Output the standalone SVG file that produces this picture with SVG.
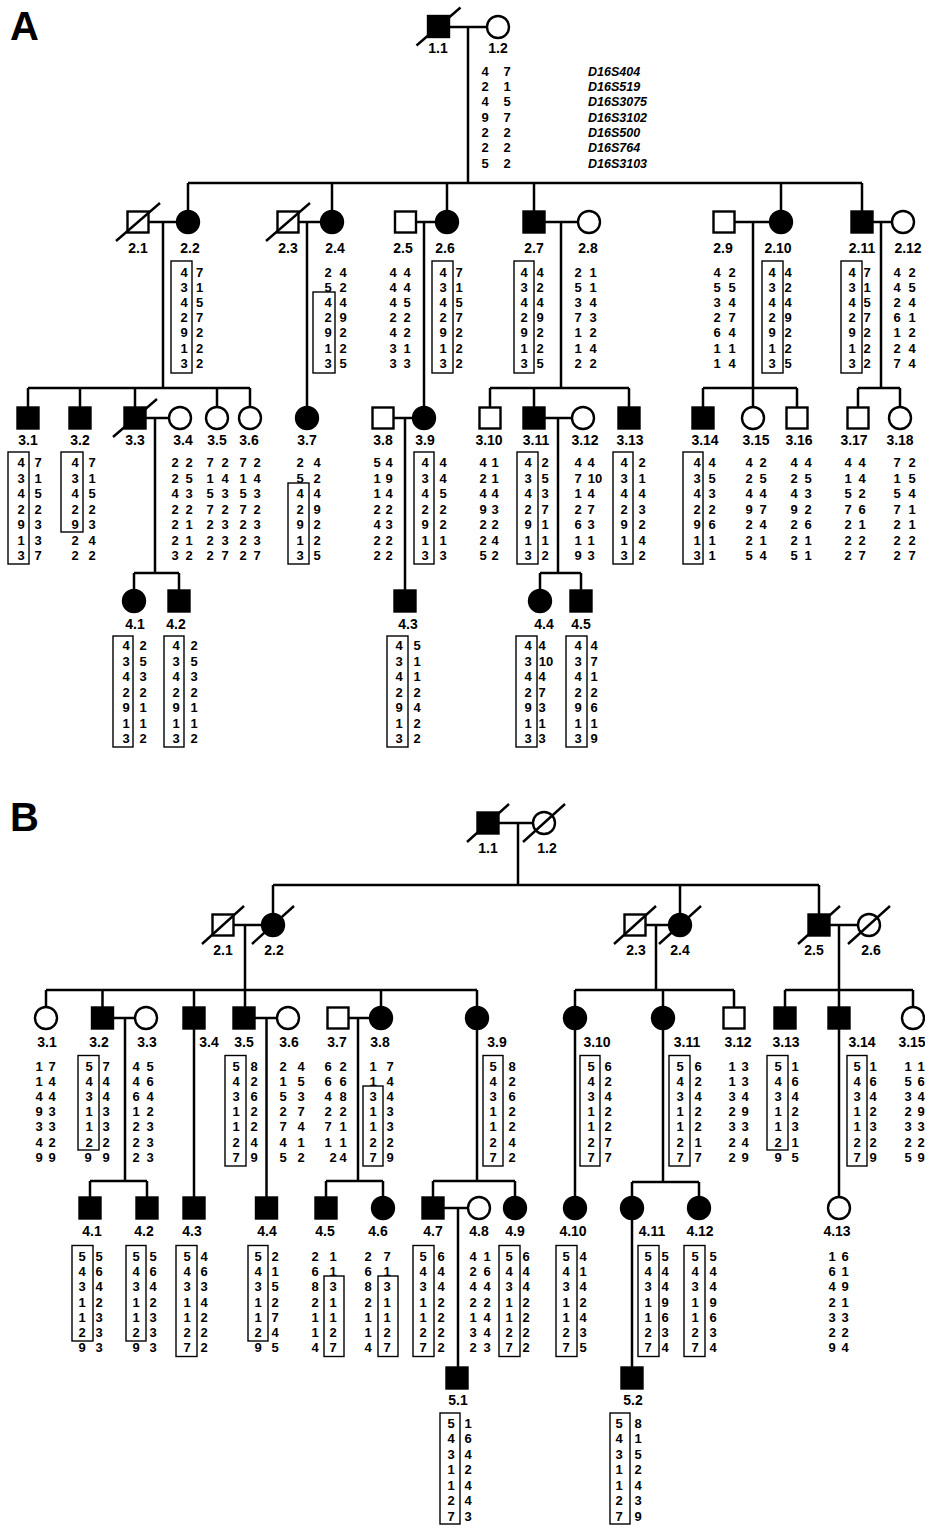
<svg xmlns="http://www.w3.org/2000/svg" width="925" height="1527" viewBox="0 0 925 1527">
<style>
.a{font:700 13px "Liberation Sans",Arial,sans-serif;text-anchor:middle;fill:#000}
.l{font:700 14px "Liberation Sans",Arial,sans-serif;text-anchor:middle;fill:#000}
.m{font:italic 700 12.5px "Liberation Sans",Arial,sans-serif;fill:#000}
.big{font:700 40px "Liberation Sans",Arial,sans-serif;fill:#000}
.ln{stroke:#000;stroke-width:2.5;fill:none}
.s{stroke:#000;stroke-width:2.4}
.f{fill:#000}
.o{fill:#fff}
.bx{fill:none;stroke:#000;stroke-width:1.4}
.sl{stroke:#000;stroke-width:2.4}
</style>
<rect width="925" height="1527" fill="#fff"/>
<text class="big" x="10" y="40">A</text>
<text class="big" x="10" y="831">B</text>

<g id="connectors">
<!-- Panel A -->
<line class="ln" x1="449" y1="27" x2="487" y2="27"/>
<line class="ln" x1="468" y1="27" x2="468" y2="183"/>
<line class="ln" x1="188" y1="183" x2="862" y2="183"/>
<line class="ln" x1="188" y1="183" x2="188" y2="211"/>
<line class="ln" x1="332" y1="183" x2="332" y2="211"/>
<line class="ln" x1="447" y1="183" x2="447" y2="211"/>
<line class="ln" x1="534" y1="183" x2="534" y2="211.5"/>
<line class="ln" x1="781" y1="183" x2="781" y2="211"/>
<line class="ln" x1="862" y1="183" x2="862" y2="211.5"/>
<line class="ln" x1="148.5" y1="222" x2="177" y2="222"/>
<line class="ln" x1="163" y1="222" x2="163" y2="388"/>
<line class="ln" x1="298.5" y1="222" x2="321" y2="222"/>
<line class="ln" x1="307" y1="222" x2="307" y2="407"/>
<line class="ln" x1="416" y1="222" x2="436" y2="222"/>
<line class="ln" x1="424" y1="222" x2="424" y2="407"/>
<line class="ln" x1="544.5" y1="222" x2="578" y2="222"/>
<line class="ln" x1="561" y1="222" x2="561" y2="388"/>
<line class="ln" x1="734.5" y1="222" x2="770" y2="222"/>
<line class="ln" x1="753" y1="222" x2="753" y2="388"/>
<line class="ln" x1="872.5" y1="222" x2="892" y2="222"/>
<line class="ln" x1="881" y1="222" x2="881" y2="388"/>
<line class="ln" x1="28" y1="388" x2="250" y2="388"/>
<line class="ln" x1="28" y1="388" x2="28" y2="407.5"/>
<line class="ln" x1="80" y1="388" x2="80" y2="407.5"/>
<line class="ln" x1="135" y1="388" x2="135" y2="407.5"/>
<line class="ln" x1="217" y1="388" x2="217" y2="407"/>
<line class="ln" x1="250" y1="388" x2="250" y2="407"/>
<line class="ln" x1="490" y1="388" x2="629" y2="388"/>
<line class="ln" x1="490" y1="388" x2="490" y2="407.5"/>
<line class="ln" x1="534" y1="388" x2="534" y2="407.5"/>
<line class="ln" x1="629" y1="388" x2="629" y2="407.5"/>
<line class="ln" x1="703" y1="388" x2="797" y2="388"/>
<line class="ln" x1="703" y1="388" x2="703" y2="407.5"/>
<line class="ln" x1="753" y1="388" x2="753" y2="407"/>
<line class="ln" x1="797" y1="388" x2="797" y2="407.5"/>
<line class="ln" x1="858" y1="388" x2="900" y2="388"/>
<line class="ln" x1="858" y1="388" x2="858" y2="407.5"/>
<line class="ln" x1="900" y1="388" x2="900" y2="407"/>
<line class="ln" x1="145.5" y1="418" x2="169" y2="418"/>
<line class="ln" x1="155" y1="418" x2="155" y2="573"/>
<line class="ln" x1="393.5" y1="418" x2="413" y2="418"/>
<line class="ln" x1="405" y1="418" x2="405" y2="590.5"/>
<line class="ln" x1="544.5" y1="418" x2="572" y2="418"/>
<line class="ln" x1="558" y1="418" x2="558" y2="573"/>
<line class="ln" x1="134" y1="573" x2="179" y2="573"/>
<line class="ln" x1="134" y1="573" x2="134" y2="590"/>
<line class="ln" x1="179" y1="573" x2="179" y2="590.5"/>
<line class="ln" x1="540" y1="573" x2="581" y2="573"/>
<line class="ln" x1="540" y1="573" x2="540" y2="590"/>
<line class="ln" x1="581" y1="573" x2="581" y2="590.5"/>
<!-- Panel B -->
<line class="ln" x1="498.5" y1="823" x2="533" y2="823"/>
<line class="ln" x1="518" y1="823" x2="518" y2="885"/>
<line class="ln" x1="273" y1="885" x2="819" y2="885"/>
<line class="ln" x1="273" y1="885" x2="273" y2="914"/>
<line class="ln" x1="680" y1="885" x2="680" y2="914"/>
<line class="ln" x1="819" y1="885" x2="819" y2="914.5"/>
<line class="ln" x1="233.5" y1="925" x2="262" y2="925"/>
<line class="ln" x1="245" y1="925" x2="245" y2="1007.5"/>
<line class="ln" x1="645.5" y1="925" x2="669" y2="925"/>
<line class="ln" x1="656" y1="925" x2="656" y2="990"/>
<line class="ln" x1="829.5" y1="925" x2="858" y2="925"/>
<line class="ln" x1="839" y1="925" x2="839" y2="1007.5"/>
<line class="ln" x1="46" y1="990" x2="477" y2="990"/>
<line class="ln" x1="46" y1="990" x2="46" y2="1007"/>
<line class="ln" x1="102.5" y1="990" x2="102.5" y2="1007.5"/>
<line class="ln" x1="194" y1="990" x2="194" y2="1007.5"/>
<line class="ln" x1="381" y1="990" x2="381" y2="1007"/>
<line class="ln" x1="477" y1="990" x2="477" y2="1007"/>
<line class="ln" x1="575" y1="990" x2="734" y2="990"/>
<line class="ln" x1="575" y1="990" x2="575" y2="1007"/>
<line class="ln" x1="663" y1="990" x2="663" y2="1007"/>
<line class="ln" x1="734" y1="990" x2="734" y2="1007.5"/>
<line class="ln" x1="785" y1="990" x2="913" y2="990"/>
<line class="ln" x1="785" y1="990" x2="785" y2="1007.5"/>
<line class="ln" x1="913" y1="990" x2="913" y2="1007"/>
<line class="ln" x1="113" y1="1018" x2="135" y2="1018"/>
<line class="ln" x1="125" y1="1018" x2="125" y2="1181"/>
<line class="ln" x1="90" y1="1181" x2="147" y2="1181"/>
<line class="ln" x1="90" y1="1181" x2="90" y2="1197.5"/>
<line class="ln" x1="147" y1="1181" x2="147" y2="1197.5"/>
<line class="ln" x1="194" y1="1028.5" x2="194" y2="1197.5"/>
<line class="ln" x1="254.5" y1="1018" x2="277" y2="1018"/>
<line class="ln" x1="266.5" y1="1018" x2="266.5" y2="1197.5"/>
<line class="ln" x1="348.5" y1="1018" x2="370" y2="1018"/>
<line class="ln" x1="358" y1="1018" x2="358" y2="1181"/>
<line class="ln" x1="326" y1="1181" x2="383" y2="1181"/>
<line class="ln" x1="326" y1="1181" x2="326" y2="1197.5"/>
<line class="ln" x1="383" y1="1181" x2="383" y2="1197"/>
<line class="ln" x1="477" y1="1029" x2="477" y2="1181"/>
<line class="ln" x1="433" y1="1181" x2="515" y2="1181"/>
<line class="ln" x1="433" y1="1181" x2="433" y2="1197.5"/>
<line class="ln" x1="515" y1="1181" x2="515" y2="1197"/>
<line class="ln" x1="443.5" y1="1208" x2="468" y2="1208"/>
<line class="ln" x1="458" y1="1208" x2="458" y2="1367.5"/>
<line class="ln" x1="575" y1="1029" x2="575" y2="1197"/>
<line class="ln" x1="663" y1="1029" x2="663" y2="1182"/>
<line class="ln" x1="632" y1="1182" x2="699" y2="1182"/>
<line class="ln" x1="632" y1="1182" x2="632" y2="1197"/>
<line class="ln" x1="699" y1="1182" x2="699" y2="1197"/>
<line class="ln" x1="632" y1="1219" x2="632" y2="1367.5"/>
<line class="ln" x1="839" y1="1028.5" x2="839" y2="1197"/>
</g>

<!-- ================= PANEL A ================= -->
<g id="A-1.1"><rect class="s f" x="428" y="16" width="21" height="21"/><line class="sl" x1="416.5" y1="45.5" x2="460.5" y2="7.5"/><text class="l" x="438" y="53">1.1</text></g>
<g id="A-1.2"><circle class="s o" cx="498" cy="27" r="11"/><text class="l" x="498" y="53">1.2</text>
<text class="a" x="485 485 485 485 485 485 485" y="75.6 91 106.3 121.7 137 152.4 167.7">4249225</text>
<text class="a" x="507 507 507 507 507 507 507" y="75.6 91 106.3 121.7 137 152.4 167.7">7157222</text></g>
<g id="A-markers">
<text class="m" x="588" y="75.6">D16S404</text>
<text class="m" x="588" y="91">D16S519</text>
<text class="m" x="588" y="106.3">D16S3075</text>
<text class="m" x="588" y="121.7">D16S3102</text>
<text class="m" x="588" y="137">D16S500</text>
<text class="m" x="588" y="152.4">D16S764</text>
<text class="m" x="588" y="167.7">D16S3103</text>
</g>

<g id="A-2.1"><rect class="s o" x="127.5" y="211.5" width="21" height="21"/><line class="sl" x1="116" y1="241" x2="160" y2="203"/><text class="l" x="138" y="253">2.1</text></g>
<g id="A-2.2"><circle class="s f" cx="188" cy="222" r="11"/><text class="l" x="190" y="253">2.2</text>
<rect class="bx" x="171" y="261" width="21" height="112"/>
<text class="a" x="184 184 184 184 184 184 184" y="276.6 291.8 307 322.2 337.4 352.6 367.8">4342913</text>
<text class="a" x="199.5 199.5 199.5 199.5 199.5 199.5 199.5" y="276.6 291.8 307 322.2 337.4 352.6 367.8">7157222</text></g>
<g id="A-2.3"><rect class="s o" x="277.5" y="211.5" width="21" height="21"/><line class="sl" x1="266" y1="241" x2="310" y2="203"/><text class="l" x="288" y="253">2.3</text></g>
<g id="A-2.4"><circle class="s f" cx="332" cy="222" r="11"/><text class="l" x="335" y="253">2.4</text>
<rect class="bx" x="313" y="292" width="22" height="81"/>
<text class="a" x="328 328 328 328 328 328 328" y="276.6 291.8 307 322.2 337.4 352.6 367.8">2542913</text>
<text class="a" x="343 343 343 343 343 343 343" y="276.6 291.8 307 322.2 337.4 352.6 367.8">4249225</text></g>
<g id="A-2.5"><rect class="s o" x="395" y="211.5" width="21" height="21"/><text class="l" x="403" y="253">2.5</text>
<text class="a" x="393 393 393 393 393 393 393" y="276.6 291.8 307 322.2 337.4 352.6 367.8">4442433</text>
<text class="a" x="407 407 407 407 407 407 407" y="276.6 291.8 307 322.2 337.4 352.6 367.8">4452213</text></g>
<g id="A-2.6"><circle class="s f" cx="447" cy="222" r="11"/><text class="l" x="445" y="253">2.6</text>
<rect class="bx" x="432" y="261" width="21" height="112"/>
<text class="a" x="443 443 443 443 443 443 443" y="276.6 291.8 307 322.2 337.4 352.6 367.8">4342913</text>
<text class="a" x="459 459 459 459 459 459 459" y="276.6 291.8 307 322.2 337.4 352.6 367.8">7157222</text></g>
<g id="A-2.7"><rect class="s f" x="523.5" y="211.5" width="21" height="21"/><text class="l" x="534" y="253">2.7</text>
<rect class="bx" x="514" y="261" width="20" height="112"/>
<text class="a" x="524 524 524 524 524 524 524" y="276.6 291.8 307 322.2 337.4 352.6 367.8">4342913</text>
<text class="a" x="540 540 540 540 540 540 540" y="276.6 291.8 307 322.2 337.4 352.6 367.8">4249225</text></g>
<g id="A-2.8"><circle class="s o" cx="589" cy="222" r="11"/><text class="l" x="588" y="253">2.8</text>
<text class="a" x="578 578 578 578 578 578 578" y="276.6 291.8 307 322.2 337.4 352.6 367.8">2537112</text>
<text class="a" x="593 593 593 593 593 593 593" y="276.6 291.8 307 322.2 337.4 352.6 367.8">1143242</text></g>
<g id="A-2.9"><rect class="s o" x="713.5" y="211.5" width="21" height="21"/><text class="l" x="723" y="253">2.9</text>
<text class="a" x="717 717 717 717 717 717 717" y="276.6 291.8 307 322.2 337.4 352.6 367.8">4532611</text>
<text class="a" x="732 732 732 732 732 732 732" y="276.6 291.8 307 322.2 337.4 352.6 367.8">2547414</text></g>
<g id="A-2.10"><circle class="s f" cx="781" cy="222" r="11"/><text class="l" x="778" y="253">2.10</text>
<rect class="bx" x="762" y="261" width="21" height="112"/>
<text class="a" x="772 772 772 772 772 772 772" y="276.6 291.8 307 322.2 337.4 352.6 367.8">4342913</text>
<text class="a" x="788 788 788 788 788 788 788" y="276.6 291.8 307 322.2 337.4 352.6 367.8">4249225</text></g>
<g id="A-2.11"><rect class="s f" x="851.5" y="211.5" width="21" height="21"/><text class="l" x="862" y="253">2.11</text>
<rect class="bx" x="841" y="261" width="21" height="112"/>
<text class="a" x="852 852 852 852 852 852 852" y="276.6 291.8 307 322.2 337.4 352.6 367.8">4342913</text>
<text class="a" x="867 867 867 867 867 867 867" y="276.6 291.8 307 322.2 337.4 352.6 367.8">7157222</text></g>
<g id="A-2.12"><circle class="s o" cx="903" cy="222" r="11"/><text class="l" x="908" y="253">2.12</text>
<text class="a" x="897 897 897 897 897 897 897" y="276.6 291.8 307 322.2 337.4 352.6 367.8">4426127</text>
<text class="a" x="912 912 912 912 912 912 912" y="276.6 291.8 307 322.2 337.4 352.6 367.8">2541244</text></g>

<g id="A-3.1"><rect class="s f" x="17.5" y="407.5" width="21" height="21"/><text class="l" x="28" y="445">3.1</text>
<rect class="bx" x="8" y="452" width="21" height="112"/>
<text class="a" x="21 21 21 21 21 21 21" y="467 482.5 498 513.5 529 544.5 560">4342913</text>
<text class="a" x="38 38 38 38 38 38 38" y="467 482.5 498 513.5 529 544.5 560">7152337</text></g>
<g id="A-3.2"><rect class="s f" x="69.5" y="407.5" width="21" height="21"/><text class="l" x="80" y="445">3.2</text>
<rect class="bx" x="61" y="452" width="22" height="80"/>
<text class="a" x="75 75 75 75 75 75 75" y="467 482.5 498 513.5 529 544.5 560">4342922</text>
<text class="a" x="92 92 92 92 92 92 92" y="467 482.5 498 513.5 529 544.5 560">7152342</text></g>
<g id="A-3.3"><rect class="s f" x="124.5" y="407.5" width="21" height="21"/><line class="sl" x1="113" y1="437" x2="157" y2="399"/><text class="l" x="135" y="445">3.3</text></g>
<g id="A-3.4"><circle class="s o" cx="180" cy="418" r="11"/><text class="l" x="183" y="445">3.4</text>
<text class="a" x="175 175 175 175 175 175 175" y="467 482.5 498 513.5 529 544.5 560">2242223</text>
<text class="a" x="189 189 189 189 189 189 189" y="467 482.5 498 513.5 529 544.5 560">2532112</text></g>
<g id="A-3.5"><circle class="s o" cx="217" cy="418" r="11"/><text class="l" x="217" y="445">3.5</text>
<text class="a" x="210 210 210 210 210 210 210" y="467 482.5 498 513.5 529 544.5 560">7157222</text>
<text class="a" x="225 225 225 225 225 225 225" y="467 482.5 498 513.5 529 544.5 560">2432337</text></g>
<g id="A-3.6"><circle class="s o" cx="250" cy="418" r="11"/><text class="l" x="249" y="445">3.6</text>
<text class="a" x="243 243 243 243 243 243 243" y="467 482.5 498 513.5 529 544.5 560">7157222</text>
<text class="a" x="257 257 257 257 257 257 257" y="467 482.5 498 513.5 529 544.5 560">2432337</text></g>
<g id="A-3.7"><circle class="s f" cx="307" cy="418" r="11"/><text class="l" x="307" y="445">3.7</text>
<rect class="bx" x="288" y="483" width="21" height="81"/>
<text class="a" x="300 300 300 300 300 300 300" y="467 482.5 498 513.5 529 544.5 560">2542913</text>
<text class="a" x="317 317 317 317 317 317 317" y="467 482.5 498 513.5 529 544.5 560">4249225</text></g>
<g id="A-3.8"><rect class="s o" x="372.5" y="407.5" width="21" height="21"/><text class="l" x="383" y="445">3.8</text>
<text class="a" x="377 377 377 377 377 377 377" y="467 482.5 498 513.5 529 544.5 560">5112422</text>
<text class="a" x="389 389 389 389 389 389 389" y="467 482.5 498 513.5 529 544.5 560">4942322</text></g>
<g id="A-3.9"><circle class="s f" cx="424" cy="418" r="11"/><text class="l" x="425" y="445">3.9</text>
<rect class="bx" x="414" y="452" width="20" height="112"/>
<text class="a" x="425 425 425 425 425 425 425" y="467 482.5 498 513.5 529 544.5 560">4342913</text>
<text class="a" x="443 443 443 443 443 443 443" y="467 482.5 498 513.5 529 544.5 560">4452213</text></g>
<g id="A-3.10"><rect class="s o" x="479.5" y="407.5" width="21" height="21"/><text class="l" x="489" y="445">3.10</text>
<text class="a" x="483 483 483 483 483 483 483" y="467 482.5 498 513.5 529 544.5 560">4249225</text>
<text class="a" x="495 495 495 495 495 495 495" y="467 482.5 498 513.5 529 544.5 560">1143242</text></g>
<g id="A-3.11"><rect class="s f" x="523.5" y="407.5" width="21" height="21"/><text class="l" x="536" y="445">3.11</text>
<rect class="bx" x="517" y="452" width="21" height="112"/>
<text class="a" x="528 528 528 528 528 528 528" y="467 482.5 498 513.5 529 544.5 560">4342913</text>
<text class="a" x="545 545 545 545 545 545 545" y="467 482.5 498 513.5 529 544.5 560">2537112</text></g>
<g id="A-3.12"><circle class="s o" cx="583" cy="418" r="11"/><text class="l" x="585" y="445">3.12</text>
<text class="a" x="578 578 578 578 578 578 578" y="467 482.5 498 513.5 529 544.5 560">4712619</text>
<text class="a" x="591" y="467">4</text><text class="a" x="595" y="482.5">10</text>
<text class="a" x="591 591 591 591 591" y="498 513.5 529 544.5 560">47313</text></g>
<g id="A-3.13"><rect class="s f" x="618.5" y="407.5" width="21" height="21"/><text class="l" x="630" y="445">3.13</text>
<rect class="bx" x="613" y="452" width="20" height="112"/>
<text class="a" x="624 624 624 624 624 624 624" y="467 482.5 498 513.5 529 544.5 560">4342913</text>
<text class="a" x="642 642 642 642 642 642 642" y="467 482.5 498 513.5 529 544.5 560">2143242</text></g>
<g id="A-3.14"><rect class="s f" x="692.5" y="407.5" width="21" height="21"/><text class="l" x="705" y="445">3.14</text>
<rect class="bx" x="683" y="452" width="20" height="112"/>
<text class="a" x="697 697 697 697 697 697 697" y="467 482.5 498 513.5 529 544.5 560">4342913</text>
<text class="a" x="712 712 712 712 712 712 712" y="467 482.5 498 513.5 529 544.5 560">4532611</text></g>
<g id="A-3.15"><circle class="s o" cx="753" cy="418" r="11"/><text class="l" x="756" y="445">3.15</text>
<text class="a" x="749 749 749 749 749 749 749" y="467 482.5 498 513.5 529 544.5 560">4249225</text>
<text class="a" x="763 763 763 763 763 763 763" y="467 482.5 498 513.5 529 544.5 560">2547414</text></g>
<g id="A-3.16"><rect class="s o" x="786.5" y="407.5" width="21" height="21"/><text class="l" x="799" y="445">3.16</text>
<text class="a" x="794 794 794 794 794 794 794" y="467 482.5 498 513.5 529 544.5 560">4249225</text>
<text class="a" x="808 808 808 808 808 808 808" y="467 482.5 498 513.5 529 544.5 560">4532611</text></g>
<g id="A-3.17"><rect class="s o" x="847.5" y="407.5" width="21" height="21"/><text class="l" x="854" y="445">3.17</text>
<text class="a" x="848 848 848 848 848 848 848" y="467 482.5 498 513.5 529 544.5 560">4157222</text>
<text class="a" x="862 862 862 862 862 862 862" y="467 482.5 498 513.5 529 544.5 560">4426127</text></g>
<g id="A-3.18"><circle class="s o" cx="900" cy="418" r="11"/><text class="l" x="900" y="445">3.18</text>
<text class="a" x="897 897 897 897 897 897 897" y="467 482.5 498 513.5 529 544.5 560">7157222</text>
<text class="a" x="912 912 912 912 912 912 912" y="467 482.5 498 513.5 529 544.5 560">2541127</text></g>

<g id="A-4.1"><circle class="s f" cx="134" cy="601" r="11"/><text class="l" x="135" y="629">4.1</text>
<rect class="bx" x="113" y="636" width="20" height="111"/>
<text class="a" x="126 126 126 126 126 126 126" y="650 665.5 681 696.5 712 727.5 743">4342913</text>
<text class="a" x="143 143 143 143 143 143 143" y="650 665.5 681 696.5 712 727.5 743">2532112</text></g>
<g id="A-4.2"><rect class="s f" x="168.5" y="590.5" width="21" height="21"/><text class="l" x="176" y="629">4.2</text>
<rect class="bx" x="164" y="636" width="20" height="111"/>
<text class="a" x="176 176 176 176 176 176 176" y="650 665.5 681 696.5 712 727.5 743">4342913</text>
<text class="a" x="194 194 194 194 194 194 194" y="650 665.5 681 696.5 712 727.5 743">2532112</text></g>
<g id="A-4.3"><rect class="s f" x="394.5" y="590.5" width="21" height="21"/><text class="l" x="408" y="629">4.3</text>
<rect class="bx" x="387" y="636" width="21" height="111"/>
<text class="a" x="399 399 399 399 399 399 399" y="650 665.5 681 696.5 712 727.5 743">4342913</text>
<text class="a" x="417 417 417 417 417 417 417" y="650 665.5 681 696.5 712 727.5 743">5112422</text></g>
<g id="A-4.4"><circle class="s f" cx="540" cy="601" r="11"/><text class="l" x="544" y="629">4.4</text>
<rect class="bx" x="516" y="636" width="21" height="111"/>
<text class="a" x="528 528 528 528 528 528 528" y="650 665.5 681 696.5 712 727.5 743">4342913</text>
<text class="a" x="542" y="650">4</text><text class="a" x="546" y="665.5">10</text>
<text class="a" x="542 542 542 542 542" y="681 696.5 712 727.5 743">47313</text></g>
<g id="A-4.5"><rect class="s f" x="570.5" y="590.5" width="21" height="21"/><text class="l" x="581" y="629">4.5</text>
<rect class="bx" x="566" y="636" width="21" height="111"/>
<text class="a" x="578 578 578 578 578 578 578" y="650 665.5 681 696.5 712 727.5 743">4342913</text>
<text class="a" x="594 594 594 594 594 594 594" y="650 665.5 681 696.5 712 727.5 743">4712619</text></g>

<!-- ================= PANEL B ================= -->
<g id="B-1.1"><rect class="s f" x="477.5" y="812.5" width="21" height="21"/><line class="sl" x1="467" y1="842" x2="509" y2="804"/><text class="l" x="488" y="853">1.1</text></g>
<g id="B-1.2"><circle class="s o" cx="544" cy="823" r="11"/><line class="sl" x1="523" y1="842" x2="565" y2="804"/><text class="l" x="547" y="853">1.2</text></g>

<g id="B-2.1"><rect class="s o" x="212.5" y="914.5" width="21" height="21"/><line class="sl" x1="202" y1="944" x2="244" y2="906"/><text class="l" x="223" y="955">2.1</text></g>
<g id="B-2.2"><circle class="s f" cx="273" cy="925" r="11"/><line class="sl" x1="252" y1="944" x2="294" y2="906"/><text class="l" x="274" y="955">2.2</text></g>
<g id="B-2.3"><rect class="s o" x="624.5" y="914.5" width="21" height="21"/><line class="sl" x1="614" y1="944" x2="656" y2="906"/><text class="l" x="636" y="955">2.3</text></g>
<g id="B-2.4"><circle class="s f" cx="680" cy="925" r="11"/><line class="sl" x1="659" y1="944" x2="701" y2="906"/><text class="l" x="680" y="955">2.4</text></g>
<g id="B-2.5"><rect class="s f" x="808.5" y="914.5" width="21" height="21"/><line class="sl" x1="798" y1="944" x2="840" y2="906"/><text class="l" x="814" y="955">2.5</text></g>
<g id="B-2.6"><circle class="s o" cx="869" cy="925" r="11"/><line class="sl" x1="848" y1="944" x2="890" y2="906"/><text class="l" x="871" y="955">2.6</text></g>

<g id="B-3.1"><circle class="s o" cx="46" cy="1018" r="11"/><text class="l" x="47" y="1047">3.1</text>
<text class="a" x="39 39 39 39 39 39 39" y="1070.6 1085.8 1101 1116.2 1131.4 1146.6 1161.8">1149349</text>
<text class="a" x="52 52 52 52 52 52 52" y="1070.6 1085.8 1101 1116.2 1131.4 1146.6 1161.8">7443329</text></g>
<g id="B-3.2"><rect class="s f" x="92" y="1007.5" width="21" height="21"/><text class="l" x="99" y="1047">3.2</text>
<rect class="bx" x="78" y="1055.5" width="21" height="94.5"/>
<text class="a" x="89 89 89 89 89 89 88" y="1070.6 1085.8 1101 1116.2 1131.4 1146.6 1161.8">5431129</text>
<text class="a" x="106 106 106 106 106 106 106" y="1070.6 1085.8 1101 1116.2 1131.4 1146.6 1161.8">7443329</text></g>
<g id="B-3.3"><circle class="s o" cx="146" cy="1018" r="11"/><text class="l" x="147" y="1047">3.3</text>
<text class="a" x="136 136 136 136 136 136 136" y="1070.6 1085.8 1101 1116.2 1131.4 1146.6 1161.8">4461222</text>
<text class="a" x="150 150 150 150 150 150 150" y="1070.6 1085.8 1101 1116.2 1131.4 1146.6 1161.8">5642333</text></g>
<g id="B-3.4"><rect class="s f" x="183.5" y="1007.5" width="21" height="21"/><text class="l" x="209" y="1047">3.4</text></g>
<g id="B-3.5"><rect class="s f" x="233.5" y="1007.5" width="21" height="21"/><text class="l" x="244" y="1047">3.5</text>
<rect class="bx" x="225" y="1055.5" width="21" height="110.5"/>
<text class="a" x="236 236 236 236 236 236 236" y="1070.6 1085.8 1101 1116.2 1131.4 1146.6 1161.8">5431127</text>
<text class="a" x="254 254 254 254 254 254 254" y="1070.6 1085.8 1101 1116.2 1131.4 1146.6 1161.8">8262249</text></g>
<g id="B-3.6"><circle class="s o" cx="288" cy="1018" r="11"/><text class="l" x="289" y="1047">3.6</text>
<text class="a" x="283 283 283 283 283 283 283" y="1070.6 1085.8 1101 1116.2 1131.4 1146.6 1161.8">2152745</text>
<text class="a" x="301 301 301 301 301 301 301" y="1070.6 1085.8 1101 1116.2 1131.4 1146.6 1161.8">4537412</text></g>
<g id="B-3.7"><rect class="s o" x="327.5" y="1007.5" width="21" height="21"/><text class="l" x="337" y="1047">3.7</text>
<text class="a" x="328 328 328 328 328 328 333" y="1070.6 1085.8 1101 1116.2 1131.4 1146.6 1161.8">6642712</text>
<text class="a" x="343 343 343 343 343 343 343" y="1070.6 1085.8 1101 1116.2 1131.4 1146.6 1161.8">2682114</text></g>
<g id="B-3.8"><circle class="s f" cx="381" cy="1018" r="11"/><text class="l" x="380" y="1047">3.8</text>
<rect class="bx" x="363" y="1086" width="20" height="80"/>
<text class="a" x="373 373 373 373 373 373 373" y="1070.6 1085.8 1101 1116.2 1131.4 1146.6 1161.8">1131127</text>
<text class="a" x="390 390 390 390 390 390 390" y="1070.6 1085.8 1101 1116.2 1131.4 1146.6 1161.8">7443329</text></g>
<g id="B-3.9"><circle class="s f" cx="477" cy="1018" r="11"/><text class="l" x="497" y="1047">3.9</text>
<rect class="bx" x="483" y="1055.5" width="20" height="110.5"/>
<text class="a" x="493 493 493 493 493 493 493" y="1070.6 1085.8 1101 1116.2 1131.4 1146.6 1161.8">5431127</text>
<text class="a" x="512 512 512 512 512 512 512" y="1070.6 1085.8 1101 1116.2 1131.4 1146.6 1161.8">8262242</text></g>
<g id="B-3.10"><circle class="s f" cx="575" cy="1018" r="11"/><text class="l" x="597" y="1047">3.10</text>
<rect class="bx" x="580" y="1055.5" width="20" height="110.5"/>
<text class="a" x="591 591 591 591 591 591 591" y="1070.6 1085.8 1101 1116.2 1131.4 1146.6 1161.8">5431127</text>
<text class="a" x="608 608 608 608 608 608 608" y="1070.6 1085.8 1101 1116.2 1131.4 1146.6 1161.8">6242277</text></g>
<g id="B-3.11"><circle class="s f" cx="663" cy="1018" r="11"/><text class="l" x="687" y="1047">3.11</text>
<rect class="bx" x="669" y="1055.5" width="21" height="110.5"/>
<text class="a" x="680 680 680 680 680 680 680" y="1070.6 1085.8 1101 1116.2 1131.4 1146.6 1161.8">5431127</text>
<text class="a" x="698 698 698 698 698 698 698" y="1070.6 1085.8 1101 1116.2 1131.4 1146.6 1161.8">6242217</text></g>
<g id="B-3.12"><rect class="s o" x="723.5" y="1007.5" width="21" height="21"/><text class="l" x="738" y="1047">3.12</text>
<text class="a" x="732 732 732 732 732 732 732" y="1070.6 1085.8 1101 1116.2 1131.4 1146.6 1161.8">1132322</text>
<text class="a" x="745 745 745 745 745 745 745" y="1070.6 1085.8 1101 1116.2 1131.4 1146.6 1161.8">3349349</text></g>
<g id="B-3.13"><rect class="s f" x="774.5" y="1007.5" width="21" height="21"/><text class="l" x="786" y="1047">3.13</text>
<rect class="bx" x="767" y="1055.5" width="21" height="94.5"/>
<text class="a" x="778 778 778 778 778 778 778" y="1070.6 1085.8 1101 1116.2 1131.4 1146.6 1161.8">5431129</text>
<text class="a" x="795 795 795 795 795 795 795" y="1070.6 1085.8 1101 1116.2 1131.4 1146.6 1161.8">1642315</text></g>
<g id="B-3.14"><rect class="s f" x="828.5" y="1007.5" width="21" height="21"/><text class="l" x="862" y="1047">3.14</text>
<rect class="bx" x="847" y="1055.5" width="20" height="110.5"/>
<text class="a" x="857 857 857 857 857 857 857" y="1070.6 1085.8 1101 1116.2 1131.4 1146.6 1161.8">5431127</text>
<text class="a" x="873 873 873 873 873 873 873" y="1070.6 1085.8 1101 1116.2 1131.4 1146.6 1161.8">1642329</text></g>
<g id="B-3.15"><circle class="s o" cx="913" cy="1018" r="11"/><text class="l" x="912" y="1047">3.15</text>
<text class="a" x="908 908 908 908 908 908 908" y="1070.6 1085.8 1101 1116.2 1131.4 1146.6 1161.8">1532325</text>
<text class="a" x="921 921 921 921 921 921 921" y="1070.6 1085.8 1101 1116.2 1131.4 1146.6 1161.8">1649329</text></g>

<g id="B-4.1"><rect class="s f" x="79.5" y="1197.5" width="21" height="21"/><text class="l" x="92" y="1236">4.1</text>
<rect class="bx" x="72" y="1245.5" width="21" height="95.5"/>
<text class="a" x="82 82 82 82 82 82 82" y="1260.6 1275.9 1291.2 1306.5 1321.8 1337.1 1352.4">5431129</text>
<text class="a" x="99 99 99 99 99 99 99" y="1260.6 1275.9 1291.2 1306.5 1321.8 1337.1 1352.4">5642333</text></g>
<g id="B-4.2"><rect class="s f" x="136.5" y="1197.5" width="21" height="21"/><text class="l" x="144" y="1236">4.2</text>
<rect class="bx" x="126" y="1245.5" width="20" height="95.5"/>
<text class="a" x="136 136 136 136 136 136 136" y="1260.6 1275.9 1291.2 1306.5 1321.8 1337.1 1352.4">5431129</text>
<text class="a" x="153 153 153 153 153 153 153" y="1260.6 1275.9 1291.2 1306.5 1321.8 1337.1 1352.4">5642333</text></g>
<g id="B-4.3"><rect class="s f" x="183.5" y="1197.5" width="21" height="21"/><text class="l" x="192" y="1236">4.3</text>
<rect class="bx" x="176" y="1245.5" width="21" height="111"/>
<text class="a" x="187 187 187 187 187 187 187" y="1260.6 1275.9 1291.2 1306.5 1321.8 1337.1 1352.4">5431127</text>
<text class="a" x="204 204 204 204 204 204 204" y="1260.6 1275.9 1291.2 1306.5 1321.8 1337.1 1352.4">4634222</text></g>
<g id="B-4.4"><rect class="s f" x="256" y="1197.5" width="21" height="21"/><text class="l" x="267" y="1236">4.4</text>
<rect class="bx" x="248" y="1245.5" width="20" height="95.5"/>
<text class="a" x="258 258 258 258 258 258 258" y="1260.6 1275.9 1291.2 1306.5 1321.8 1337.1 1352.4">5431129</text>
<text class="a" x="275 275 275 275 275 275 275" y="1260.6 1275.9 1291.2 1306.5 1321.8 1337.1 1352.4">2152745</text></g>
<g id="B-4.5"><rect class="s f" x="315.5" y="1197.5" width="21" height="21"/><text class="l" x="325" y="1236">4.5</text>
<rect class="bx" x="324" y="1276" width="20" height="80.5"/>
<text class="a" x="315 315 315 315 315 315 315" y="1260.6 1275.9 1291.2 1306.5 1321.8 1337.1 1352.4">2682114</text>
<text class="a" x="333 333 333 333 333 333 333" y="1260.6 1275.9 1291.2 1306.5 1321.8 1337.1 1352.4">1131127</text></g>
<g id="B-4.6"><circle class="s f" cx="383" cy="1208" r="11"/><text class="l" x="378" y="1236">4.6</text>
<rect class="bx" x="378" y="1276" width="20" height="80.5"/>
<text class="a" x="368 368 368 368 368 368 368" y="1260.6 1275.9 1291.2 1306.5 1321.8 1337.1 1352.4">2682114</text>
<text class="a" x="387 387 387 387 387 387 387" y="1260.6 1275.9 1291.2 1306.5 1321.8 1337.1 1352.4">7131127</text></g>
<g id="B-4.7"><rect class="s f" x="422.5" y="1197.5" width="21" height="21"/><text class="l" x="433" y="1236">4.7</text>
<rect class="bx" x="413" y="1245.5" width="21" height="111"/>
<text class="a" x="423 423 423 423 423 423 423" y="1260.6 1275.9 1291.2 1306.5 1321.8 1337.1 1352.4">5431127</text>
<text class="a" x="441 441 441 441 441 441 441" y="1260.6 1275.9 1291.2 1306.5 1321.8 1337.1 1352.4">6442222</text></g>
<g id="B-4.8"><circle class="s o" cx="479" cy="1208" r="11"/><text class="l" x="479" y="1236">4.8</text>
<text class="a" x="473 473 473 473 473 473 473" y="1260.6 1275.9 1291.2 1306.5 1321.8 1337.1 1352.4">4242132</text>
<text class="a" x="487 487 487 487 487 487 487" y="1260.6 1275.9 1291.2 1306.5 1321.8 1337.1 1352.4">1642443</text></g>
<g id="B-4.9"><circle class="s f" cx="515" cy="1208" r="11"/><text class="l" x="515" y="1236">4.9</text>
<rect class="bx" x="499" y="1245.5" width="21" height="111"/>
<text class="a" x="509 509 509 509 509 509 509" y="1260.6 1275.9 1291.2 1306.5 1321.8 1337.1 1352.4">5431127</text>
<text class="a" x="526 526 526 526 526 526 526" y="1260.6 1275.9 1291.2 1306.5 1321.8 1337.1 1352.4">6442222</text></g>
<g id="B-4.10"><circle class="s f" cx="575" cy="1208" r="11"/><text class="l" x="573" y="1236">4.10</text>
<rect class="bx" x="556" y="1245.5" width="21" height="111"/>
<text class="a" x="566 566 566 566 566 566 566" y="1260.6 1275.9 1291.2 1306.5 1321.8 1337.1 1352.4">5431127</text>
<text class="a" x="583 583 583 583 583 583 583" y="1260.6 1275.9 1291.2 1306.5 1321.8 1337.1 1352.4">4142435</text></g>
<g id="B-4.11"><circle class="s f" cx="632" cy="1208" r="11"/><text class="l" x="652" y="1236">4.11</text>
<rect class="bx" x="638" y="1245.5" width="21" height="111"/>
<text class="a" x="648 648 648 648 648 648 648" y="1260.6 1275.9 1291.2 1306.5 1321.8 1337.1 1352.4">5431127</text>
<text class="a" x="665 665 665 665 665 665 665" y="1260.6 1275.9 1291.2 1306.5 1321.8 1337.1 1352.4">5449634</text></g>
<g id="B-4.12"><circle class="s f" cx="699" cy="1208" r="11"/><text class="l" x="700" y="1236">4.12</text>
<rect class="bx" x="684" y="1245.5" width="21" height="111"/>
<text class="a" x="695 695 695 695 695 695 695" y="1260.6 1275.9 1291.2 1306.5 1321.8 1337.1 1352.4">5431127</text>
<text class="a" x="713 713 713 713 713 713 713" y="1260.6 1275.9 1291.2 1306.5 1321.8 1337.1 1352.4">5449634</text></g>
<g id="B-4.13"><circle class="s o" cx="839" cy="1208" r="11"/><text class="l" x="837" y="1236">4.13</text>
<text class="a" x="832 832 832 832 832 832 832" y="1260.6 1275.9 1291.2 1306.5 1321.8 1337.1 1352.4">1642329</text>
<text class="a" x="845 845 845 845 845 845 845" y="1260.6 1275.9 1291.2 1306.5 1321.8 1337.1 1352.4">6191324</text></g>

<g id="B-5.1"><rect class="s f" x="446.5" y="1367.5" width="21" height="21"/><text class="l" x="458" y="1405">5.1</text>
<rect class="bx" x="440" y="1413" width="20" height="111"/>
<text class="a" x="451 451 451 451 451 451 451" y="1427.6 1443.1 1458.6 1474.1 1489.6 1505.1 1520.6">5431127</text>
<text class="a" x="468 468 468 468 468 468 468" y="1427.6 1443.1 1458.6 1474.1 1489.6 1505.1 1520.6">1642443</text></g>
<g id="B-5.2"><rect class="s f" x="621.5" y="1367.5" width="21" height="21"/><text class="l" x="633" y="1405">5.2</text>
<rect class="bx" x="610" y="1413" width="20" height="111"/>
<text class="a" x="619 619 619 619 619 619 619" y="1427.6 1443.1 1458.6 1474.1 1489.6 1505.1 1520.6">5431127</text>
<text class="a" x="638 638 638 638 638 638 638" y="1427.6 1443.1 1458.6 1474.1 1489.6 1505.1 1520.6">8152439</text></g>
</svg>
